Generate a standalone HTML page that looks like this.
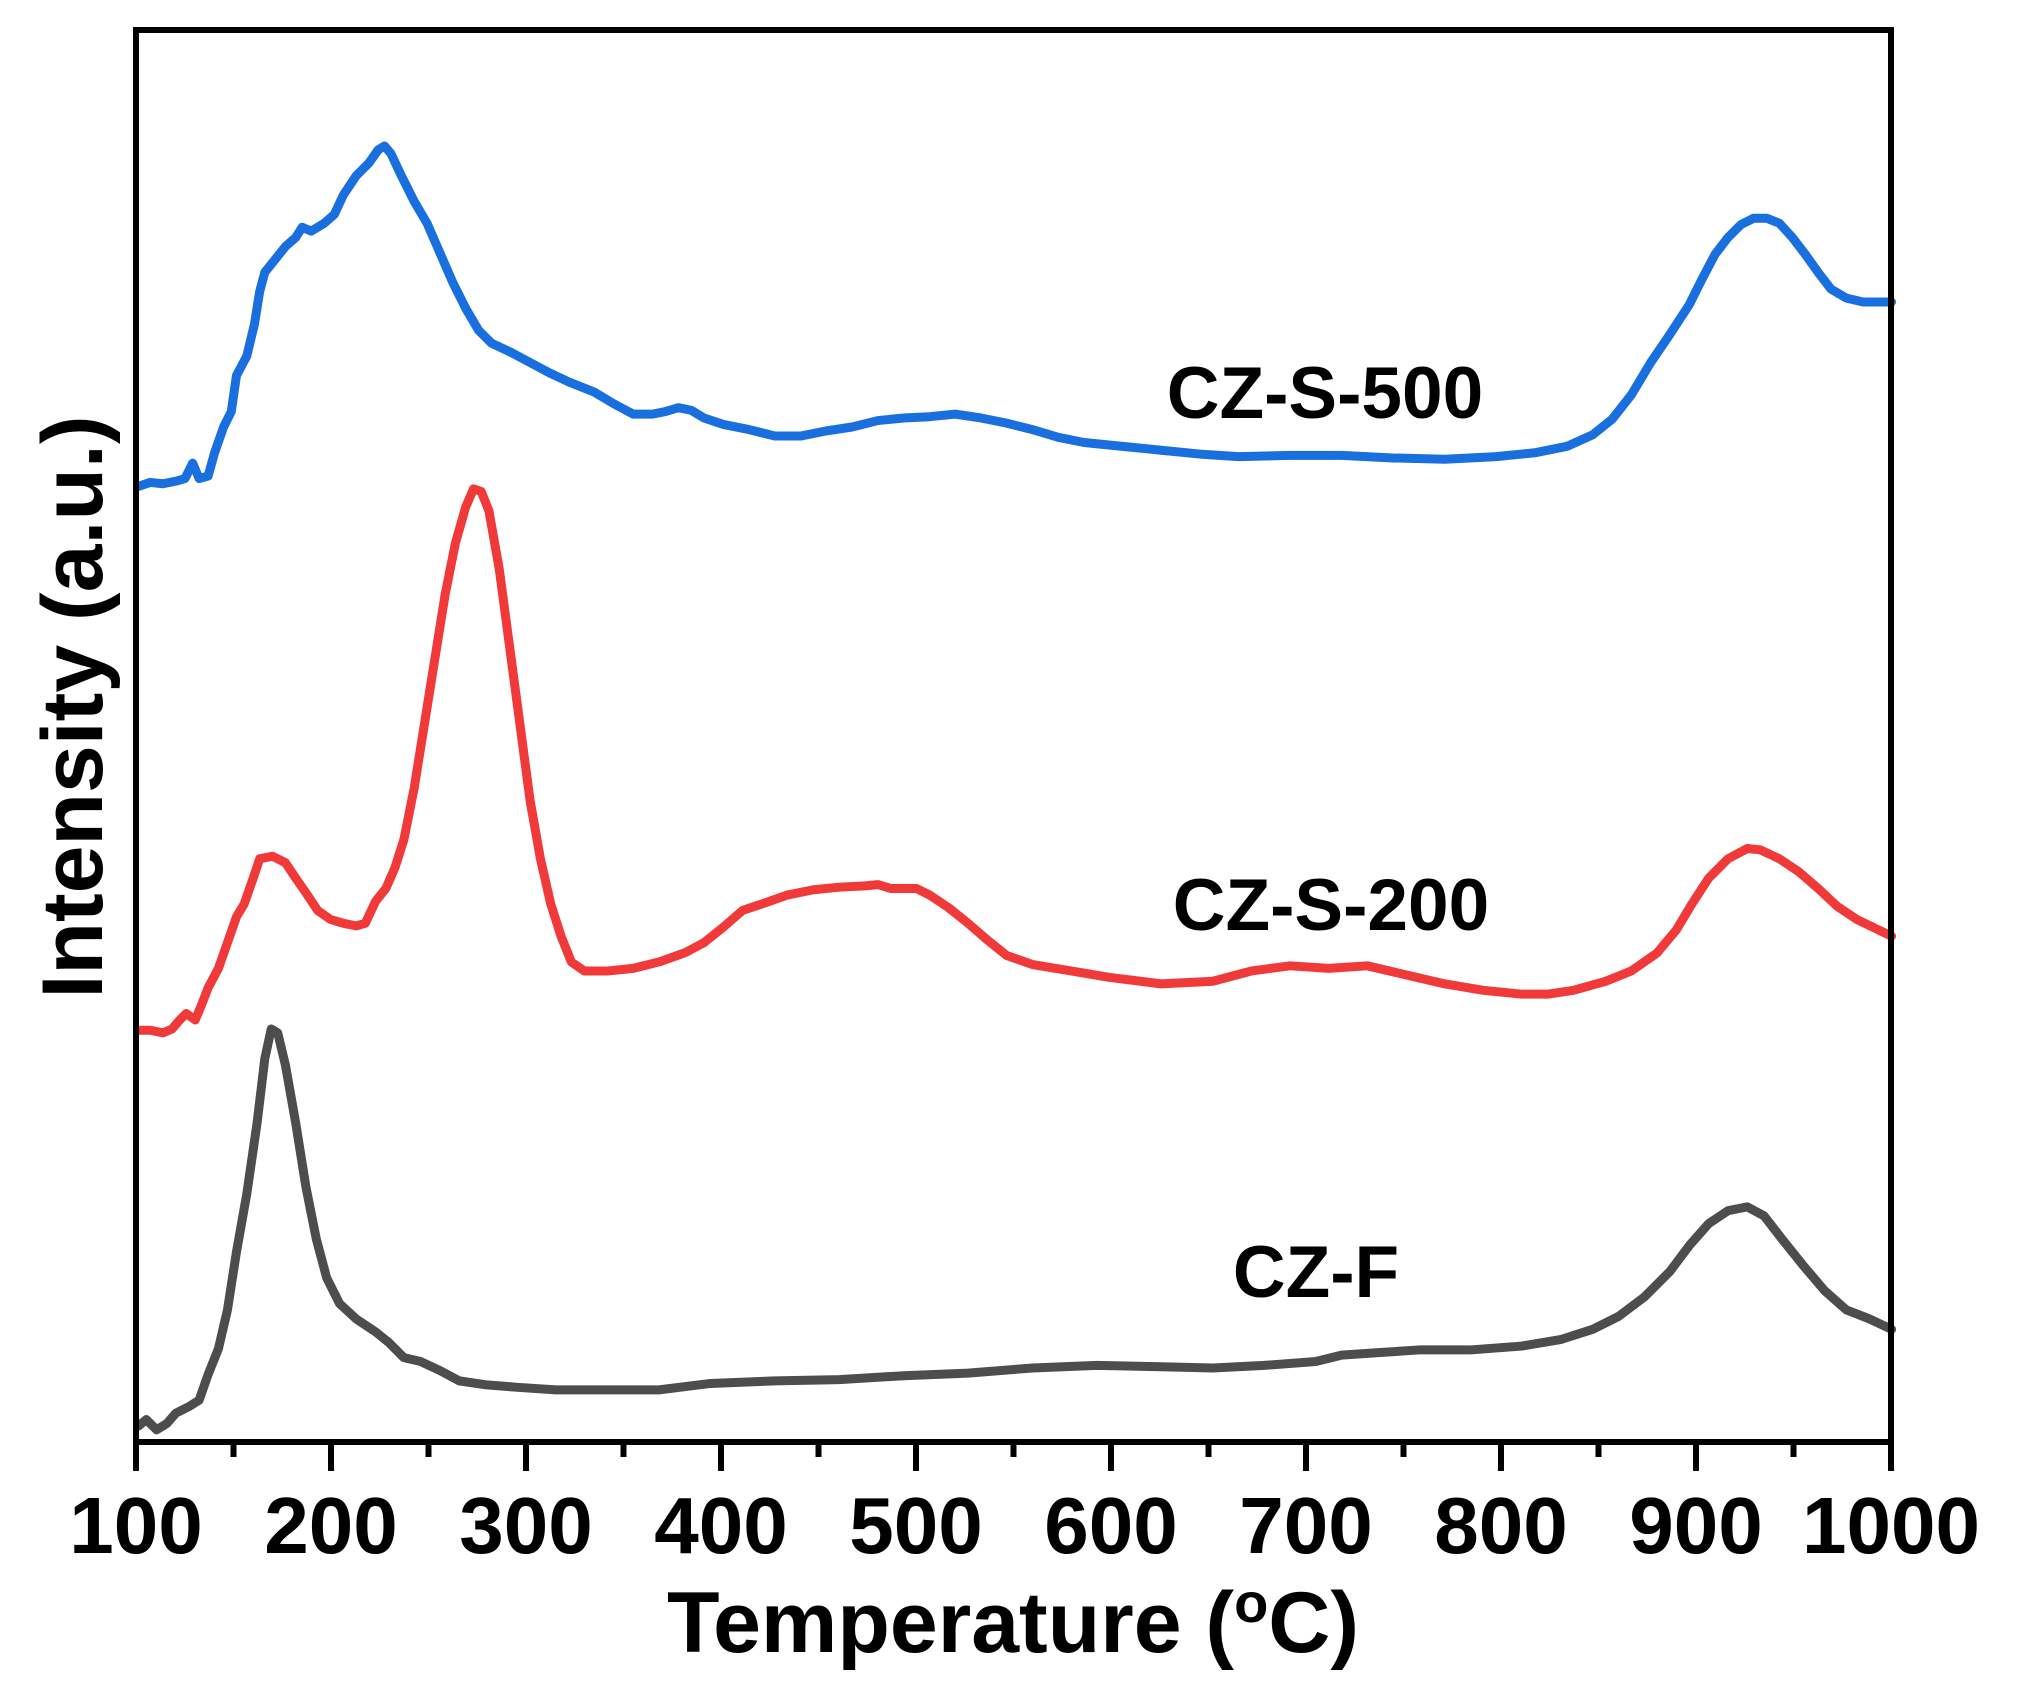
<!DOCTYPE html>
<html><head><meta charset="utf-8"><style>html,body{margin:0;padding:0;background:#fff}svg{display:block}</style></head>
<body>
<svg width="2019" height="1691" viewBox="0 0 2019 1691" xmlns="http://www.w3.org/2000/svg" font-family="Liberation Sans, Arial, sans-serif" font-weight="bold">
<rect width="2019" height="1691" fill="#fff"/>
<g transform="translate(2.05,1.64) scale(1.288,1.289)" fill="none" stroke-width="9" stroke-linejoin="round" stroke-linecap="round">
<polyline vector-effect="non-scaling-stroke" stroke="#1a6fdf" points="106,376 115,373 125,374 135,372 142,370 148,358 153,370 160,368 165,350 172,330 178,318 182,290 190,275 196,250 200,225 204,210 212,200 220,190 228,183 233,175 240,178 250,172 258,165 265,150 275,135 285,125 292,115 297,112 302,118 310,135 320,155 330,172 340,195 350,218 360,238 370,255 380,265 395,272 410,280 425,288 440,295 460,303 475,312 490,320 505,320 515,318 525,315 535,317 545,323 560,328 580,332 600,337 620,337 640,333 660,330 680,325 700,323 720,322 740,320 760,323 780,327 800,332 820,338 840,342 870,345 900,348 930,351 960,353 1000,352 1040,352 1080,354 1120,355 1160,353 1190,350 1215,345 1235,336 1250,324 1265,305 1280,280 1295,258 1310,235 1320,215 1330,196 1340,183 1350,173 1360,168 1370,168 1380,172 1390,183 1400,196 1410,210 1420,223 1432,230 1445,233 1467,233"/>
<polyline vector-effect="non-scaling-stroke" stroke="#f03a3a" points="106,798 115,798 125,800 132,797 138,790 143,785 150,790 155,778 160,765 168,750 175,730 182,710 188,700 195,680 200,665 210,663 220,668 228,680 235,690 245,705 255,712 265,715 275,717 282,715 290,698 298,688 305,672 312,650 320,610 328,560 336,510 344,460 352,420 360,392 366,378 372,380 378,395 386,440 394,500 402,560 410,620 418,665 426,700 434,725 442,745 452,752 470,752 490,750 510,745 530,738 545,730 560,718 575,705 590,700 610,693 630,689 650,687 670,686 680,685 690,688 700,688 710,688 720,693 735,703 750,715 765,728 780,740 800,747 830,752 860,757 900,762 940,760 970,752 1000,748 1030,750 1060,748 1090,755 1120,762 1150,767 1180,770 1200,770 1220,767 1245,760 1265,752 1285,738 1300,720 1312,700 1325,680 1340,665 1355,657 1365,658 1380,665 1395,675 1410,688 1425,702 1440,712 1467,725"/>
<polyline vector-effect="non-scaling-stroke" stroke="#4d4d4d" points="106,1105 112,1100 120,1108 128,1103 135,1095 145,1090 153,1085 160,1065 168,1045 175,1015 182,970 190,925 198,870 204,820 209,797 214,800 220,825 228,870 236,920 244,960 252,990 262,1010 275,1022 290,1032 300,1040 312,1052 325,1055 340,1062 355,1070 375,1073 400,1075 430,1077 470,1077 510,1077 550,1072 600,1070 650,1069 700,1066 750,1064 800,1060 850,1058 900,1059 940,1060 980,1058 1020,1055 1040,1050 1070,1048 1100,1046 1140,1046 1180,1043 1210,1038 1235,1030 1255,1020 1275,1005 1295,985 1310,965 1325,948 1340,938 1355,935 1368,942 1382,960 1398,980 1415,1000 1432,1015 1450,1022 1467,1030"/>
</g>
<rect x="136" y="30" width="1755" height="1412" fill="none" stroke="#000" stroke-width="6"/>
<g stroke="#000" stroke-width="6">
<line x1="136" y1="1442" x2="136" y2="1471"/><line x1="331" y1="1442" x2="331" y2="1471"/><line x1="526" y1="1442" x2="526" y2="1471"/><line x1="721" y1="1442" x2="721" y2="1471"/><line x1="916" y1="1442" x2="916" y2="1471"/><line x1="1111" y1="1442" x2="1111" y2="1471"/><line x1="1306" y1="1442" x2="1306" y2="1471"/><line x1="1501" y1="1442" x2="1501" y2="1471"/><line x1="1696" y1="1442" x2="1696" y2="1471"/><line x1="1891" y1="1442" x2="1891" y2="1471"/>
<line x1="233.5" y1="1442" x2="233.5" y2="1457"/><line x1="428.5" y1="1442" x2="428.5" y2="1457"/><line x1="623.5" y1="1442" x2="623.5" y2="1457"/><line x1="818.5" y1="1442" x2="818.5" y2="1457"/><line x1="1013.5" y1="1442" x2="1013.5" y2="1457"/><line x1="1208.5" y1="1442" x2="1208.5" y2="1457"/><line x1="1403.5" y1="1442" x2="1403.5" y2="1457"/><line x1="1598.5" y1="1442" x2="1598.5" y2="1457"/><line x1="1793.5" y1="1442" x2="1793.5" y2="1457"/>
</g>
<g font-size="80" text-anchor="middle" fill="#000">
<text x="136" y="1553">100</text><text x="331" y="1553">200</text><text x="526" y="1553">300</text><text x="721" y="1553">400</text><text x="916" y="1553">500</text><text x="1111" y="1553">600</text><text x="1306" y="1553">700</text><text x="1501" y="1553">800</text><text x="1696" y="1553">900</text><text x="1891" y="1553">1000</text>
</g>
<text x="1013" y="1652" font-size="86" text-anchor="middle">Temperature (<tspan font-size="56" dy="-30">o</tspan><tspan dy="30">C)</tspan></text>
<text transform="translate(102,707) rotate(-90)" font-size="86" text-anchor="middle">Intensity (a.u.)</text>
<g font-size="73" text-anchor="middle">
<text x="1325" y="418">CZ-S-500</text>
<text x="1331" y="930">CZ-S-200</text>
<text x="1316" y="1297">CZ-F</text>
</g>
</svg>
</body></html>
